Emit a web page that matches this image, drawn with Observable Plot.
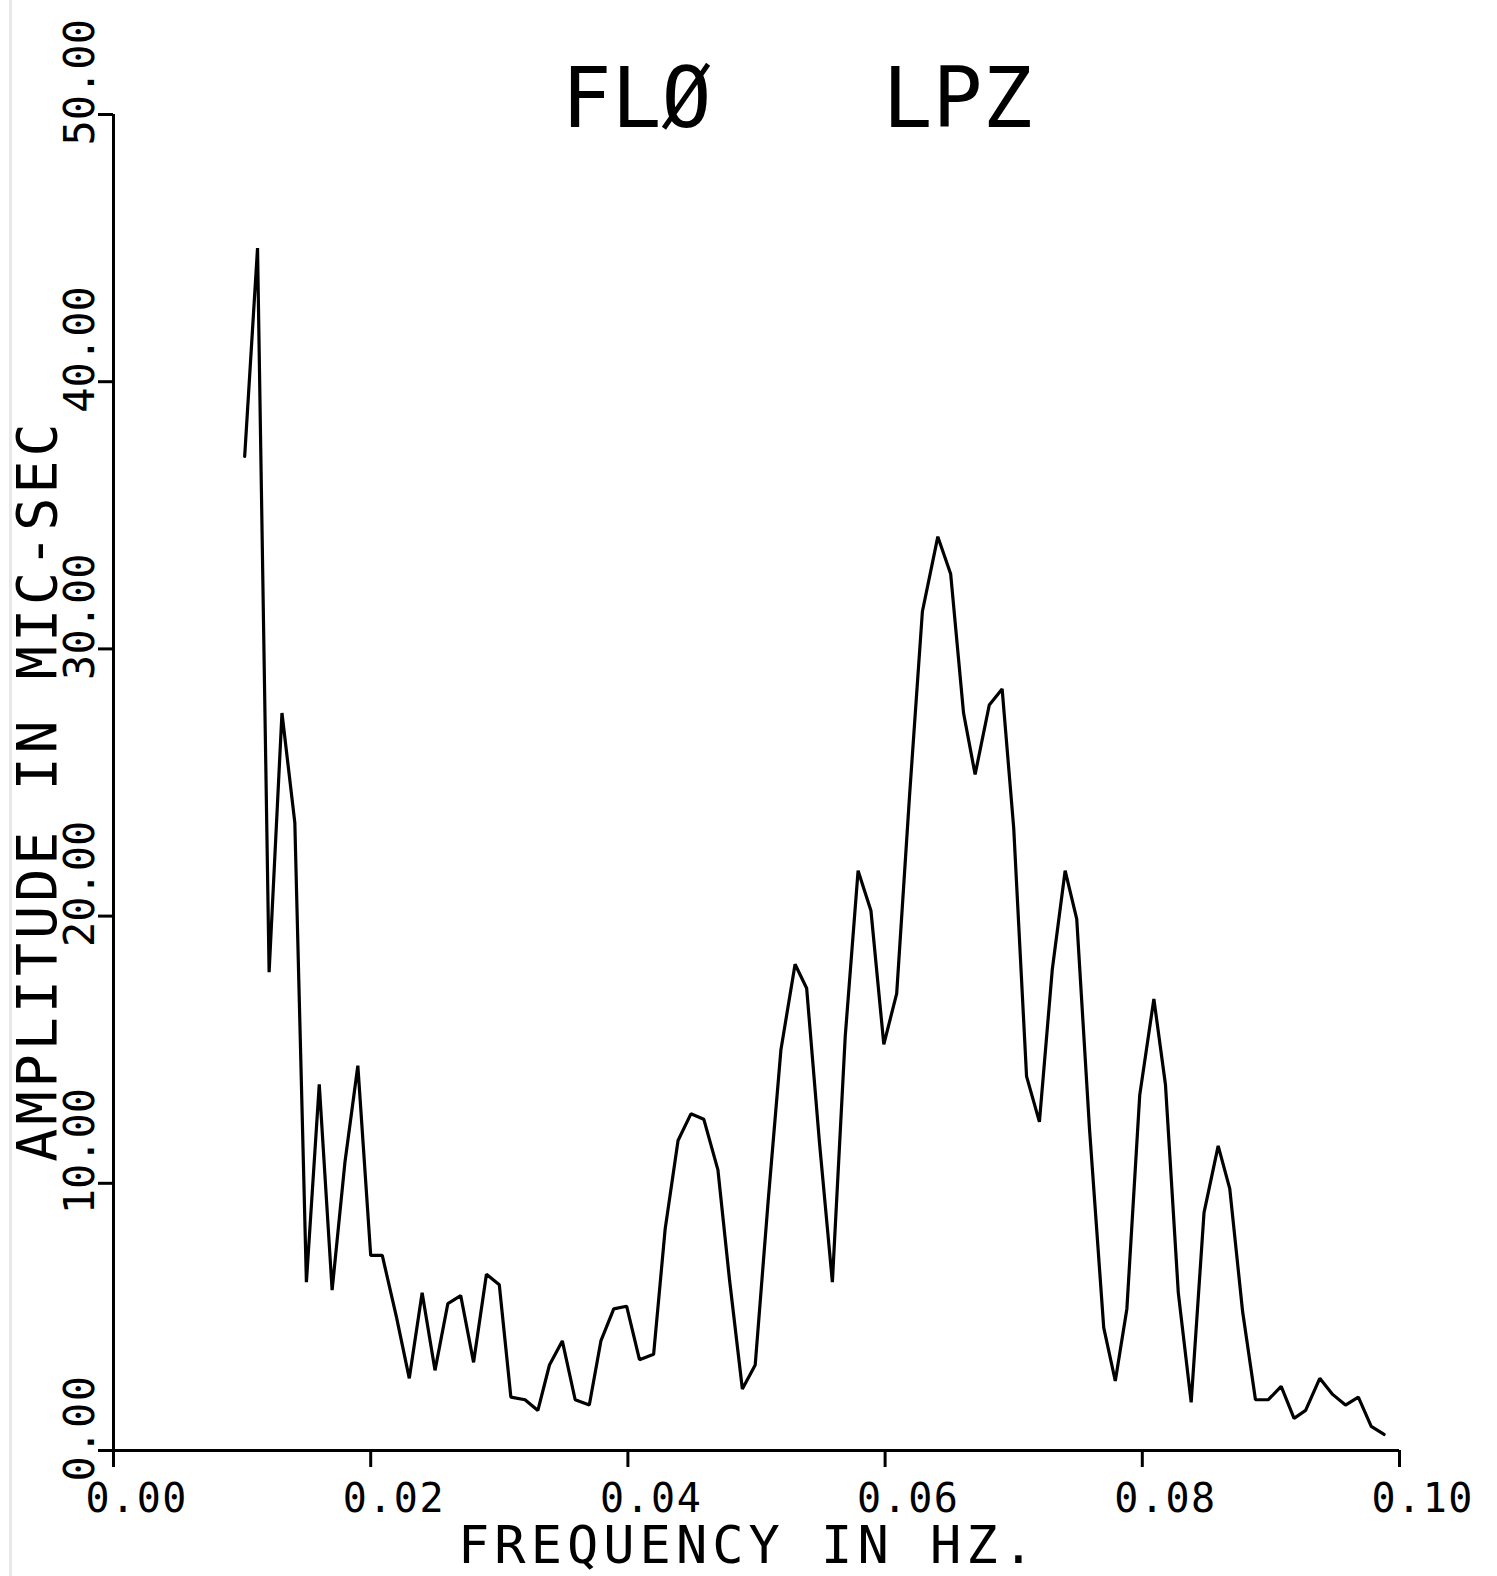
<!DOCTYPE html>
<html><head><meta charset="utf-8">
<script src="https://cdn.jsdelivr.net/npm/d3@7"></script>
<script src="https://cdn.jsdelivr.net/npm/@observablehq/plot@0.6"></script>
<style>
html,body{margin:0;padding:0;background:#fff;}
#chart{position:relative;width:1497px;height:1576px;}
#chart svg{position:absolute;left:0;top:0;}
#edge{position:absolute;left:9px;top:0;width:3px;height:1576px;background:#e8e8e8;z-index:2;}
</style></head>
<body><div id="chart"><div id="edge"></div></div>
<script>
const frequency = [
  0.0102,0.0112,0.0121,0.0131,0.0141,0.0150,0.0160,0.0170,0.0180,0.0190,
  0.0200,0.0209,0.0220,0.0230,0.0240,0.0250,0.0260,0.0270,0.0280,0.0290,
  0.0300,0.0309,0.0320,0.0330,0.0339,0.0349,0.0359,0.0370,0.0379,0.0389,
  0.0399,0.0409,0.0420,0.0429,0.0439,0.0449,0.0459,0.0470,0.0479,0.0489,
  0.0499,0.0509,0.0519,0.0530,0.0539,0.0549,0.0559,0.0569,0.0579,0.0589,
  0.0599,0.0609,0.0619,0.0629,0.0641,0.0651,0.0661,0.0670,0.0681,0.0691,
  0.0700,0.0710,0.0720,0.0730,0.0740,0.0749,0.0759,0.0770,0.0779,0.0788,
  0.0798,0.0809,0.0818,0.0828,0.0838,0.0848,0.0859,0.0868,0.0878,0.0888,
  0.0898,0.0908,0.0918,0.0927,0.0938,0.0948,0.0958,0.0968,0.0978,0.0988
];
const amplitude = [
  37.2,45.0,17.9,27.6,23.5,6.3,13.7,6.0,10.8,14.4,
  7.3,7.3,5.0,2.7,5.9,3.0,5.5,5.8,3.3,6.6,
  6.2,2.0,1.9,1.5,3.2,4.1,1.9,1.7,4.1,5.3,
  5.4,3.4,3.6,8.3,11.6,12.6,12.4,10.5,6.4,2.3,
  3.2,9.3,15.0,18.2,17.3,11.5,6.3,15.5,21.7,20.2,
  15.2,17.1,24.5,31.4,34.2,32.8,27.6,25.3,27.9,28.5,
  23.3,14.0,12.3,18.0,21.7,19.9,12.0,4.6,2.6,5.3,
  13.3,16.9,13.7,5.9,1.8,8.9,11.4,9.8,5.2,1.9,
  1.9,2.4,1.2,1.5,2.7,2.1,1.7,2.0,0.9,0.6
];
const xTicks = [0, 0.02, 0.04, 0.06, 0.08, 0.10];
const xTickLabels = ["0.00", "0.02", "0.04", "0.06", "0.08", "0.10"];
const yTicks = [0, 10, 20, 30, 40, 50];
const yTickLabels = ["0.00", "10.00", "20.00", "30.00", "40.00", "50.00"];
const titleLeft = "FLØ";
const titleRight = "LPZ";
const xLabel = "FREQUENCY IN HZ.";
const yLabel = "AMPLITUDE IN MIC-SEC";

const data = frequency.map((f, i) => ({f, a: amplitude[i]}));
const xTickTable = xTicks.map((v, i) => ({v, label: xTickLabels[i]}));
const yTickTable = yTicks.map((v, i) => ({v, label: yTickLabels[i]}));
const font = "'DejaVu Sans Mono', 'Liberation Mono', monospace";

const plot = Plot.plot({
  width: 1497, height: 1576,
  marginLeft: 113, marginRight: 98, marginTop: 114, marginBottom: 126,
  style: {background: "white", fontFamily: font, color: "black"},
  x: {domain: [0, 0.1], label: null},
  y: {domain: [0, 50], label: null},
  marks: [
    Plot.axisX({ticks: xTicks, tickSize: 17, tickFormat: () => "", strokeWidth: 3, label: null}),
    Plot.axisY({ticks: yTicks, tickSize: 15, tickFormat: () => "", strokeWidth: 3, label: null}),
    Plot.ruleX([0], {y1: 0, y2: 50, stroke: "black", strokeWidth: 3}),
    Plot.ruleY([0], {x1: 0, x2: 0.1, stroke: "black", strokeWidth: 3}),
    Plot.line(data, {x: "f", y: "a", stroke: "black", strokeWidth: 3.2, strokeLinejoin: "miter"}),
    Plot.text(xTickTable, {x: "v", frameAnchor: "bottom", text: "label", textAnchor: "start", lineAnchor: "bottom", dx: -28, dy: 61, fontSize: 40, fill: "black"}),
    Plot.text(yTickTable, {y: "v", frameAnchor: "left", text: "label", rotate: -90, textAnchor: "start", lineAnchor: "bottom", dx: -20, dy: 31, fontSize: 42, fill: "black"}),
    Plot.text([titleLeft], {frameAnchor: "top", text: d => d, textAnchor: "middle", lineAnchor: "bottom", dx: -120, dy: 12, fontSize: 83, fill: "black"}),
    Plot.text([titleRight], {frameAnchor: "top", text: d => d, textAnchor: "middle", lineAnchor: "bottom", dx: 201, dy: 12, fontSize: 83, fill: "black"}),
    Plot.text([xLabel], {frameAnchor: "bottom", text: d => d, textAnchor: "middle", lineAnchor: "bottom", dx: -8, dy: 112, fontSize: 52, fill: "black"}),
    Plot.text([yLabel], {frameAnchor: "left", text: d => d, rotate: -90, textAnchor: "middle", lineAnchor: "bottom", dx: -58, dy: 8, fontSize: 55, fill: "black"})
  ]
});

d3.select(plot).selectAll("text").each(function() {
  const t = this.textContent;
  if (t === xLabel) d3.select(this).attr("letter-spacing", 5);
  if (t === yLabel) d3.select(this).attr("letter-spacing", 4);
  if (xTickLabels.includes(t)) d3.select(this).attr("letter-spacing", 1.5);
});

document.getElementById("chart").appendChild(plot);
</script>
</body></html>
